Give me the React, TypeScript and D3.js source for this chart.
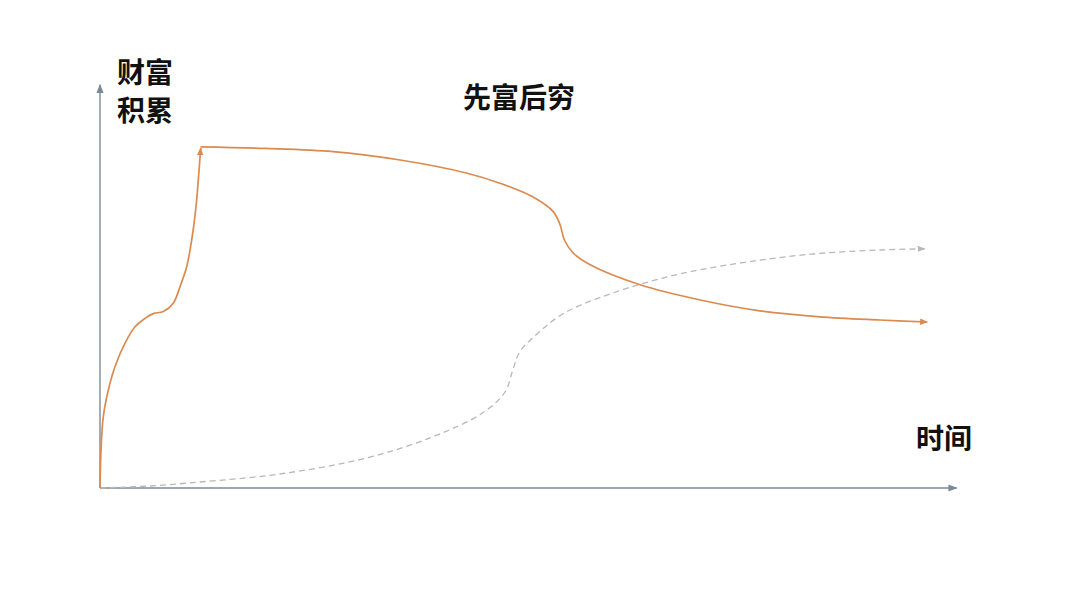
import * as d3 from "d3";

// wealth path: rapid rise to the peak
const riseTime = [0, 0.12, 0.38, 0.97, 1.74, 2.91, 4.07, 5.23, 6.2, 7.36, 8.52, 9.3, 10.08, 10.66, 11.16, 11.43, 11.71];
const riseWealth = [0, 9.5, 17.8, 24.5, 30.3, 36.2, 40.3, 42.4, 43.6, 44.1, 46.2, 50.3, 55.3, 62, 70.3, 77, 85];

// wealth path: slow decline after the peak
const fallTime = [11.7, 19.2, 27.1, 34.9, 42.7, 46.5, 50.3, 52.7, 53.5, 54, 55, 57, 62.8, 69.8, 76.7, 83.7, 90.7, 96.2];
const fallWealth = [85.3, 84.9, 84.1, 82, 78.7, 76.2, 72.8, 69.1, 65.8, 62, 58.8, 55.8, 50.8, 47, 44.3, 42.8, 42, 41.5];

// dashed reference path: slow start, steady growth
const steadyTime = [0, 5.8, 11.6, 20.9, 31, 38.7, 44.5, 47.1, 48, 48.8, 50.3, 53.8, 59.7, 67.4, 75.2, 82.9, 90.7, 95.9];
const steadyWealth = [0, 0.5, 1.5, 3.5, 7.5, 12.8, 18.8, 24, 29.5, 34, 37.5, 43.5, 48.8, 53.5, 56.5, 58.5, 59.5, 59.8];

const title = "先富后穷";
const yLabel = ["财富", "积累"];
const xLabel = "时间";

const W = 1080;
const H = 608;
const FONT = "'Noto Sans CJK SC', 'Noto Sans', sans-serif";

const AXIS = "#7b8a99";
const ORANGE = "#dd8a4e";
const GREY = "#b8b8b8";

export default function App() {
  const x = d3.scaleLinear().domain([0, 100]).range([100, 960]);
  const y = d3.scaleLinear().domain([0, 100]).range([488, 88]);

  const line = d3
    .line<[number, number]>()
    .x((d) => x(d[0]))
    .y((d) => y(d[1]))
    .curve(d3.curveCatmullRom.alpha(0.5));

  const zip = (a: number[], b: number[]) => a.map((v, i) => [v, b[i]] as [number, number]);

  const marker = (id: string, color: string, size: number) => (
    <marker
      id={id}
      viewBox="0 0 10 10"
      refX={9}
      refY={5}
      markerWidth={size}
      markerHeight={size}
      markerUnits="userSpaceOnUse"
      orient="auto"
    >
      <path d="M0,1 L10,5 L0,9 z" fill={color} />
    </marker>
  );

  return (
    <svg
      width={W}
      height={H}
      style={{ position: "absolute", left: 0, top: 0, background: "#fff" }}
    >
      <defs>
        {marker("arrAxis", AXIS, 9)}
        {marker("arrOrange", ORANGE, 8)}
        {marker("arrGrey", GREY, 8)}
      </defs>

      {/* axes */}
      <line x1={x(0)} y1={y(0)} x2={x(99.6)} y2={y(0)} stroke={AXIS} strokeWidth={1.4} markerEnd="url(#arrAxis)" />
      <line x1={x(0)} y1={y(0)} x2={x(0)} y2={y(100.8)} stroke={AXIS} strokeWidth={1.4} markerEnd="url(#arrAxis)" />

      {/* dashed reference */}
      <path
        d={line(zip(steadyTime, steadyWealth)) ?? ""}
        fill="none"
        stroke={GREY}
        strokeWidth={1.3}
        strokeDasharray="6 4"
        markerEnd="url(#arrGrey)"
      />

      {/* wealth curve */}
      <path
        d={line(zip(riseTime, riseWealth)) ?? ""}
        fill="none"
        stroke={ORANGE}
        strokeWidth={1.7}
        markerEnd="url(#arrOrange)"
      />
      <path
        d={line(zip(fallTime, fallWealth)) ?? ""}
        fill="none"
        stroke={ORANGE}
        strokeWidth={1.7}
        markerEnd="url(#arrOrange)"
      />

      {/* labels */}
      <g fontFamily={FONT} fontSize={28} fontWeight={700} fill="#111">
        <text x={117} y={83}>{yLabel[0]}</text>
        <text x={117} y={121}>{yLabel[1]}</text>
        <text x={519} y={108} textAnchor="middle">{title}</text>
        <text x={916} y={449}>{xLabel}</text>
      </g>
    </svg>
  );
}
